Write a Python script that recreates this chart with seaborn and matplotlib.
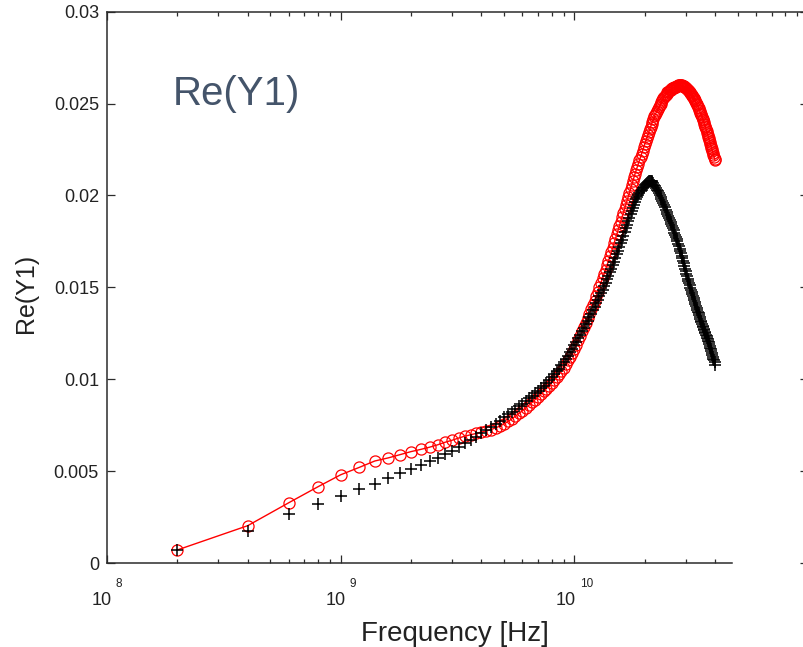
import numpy as np
import pandas as pd
import matplotlib
matplotlib.use("Agg")
import matplotlib.pyplot as plt
from matplotlib.ticker import FixedLocator, NullFormatter
import seaborn as sns

# Frequency sweep: 200 points, 0.2 GHz to 40 GHz in 0.2 GHz steps
freq_hz = np.linspace(0.2e9, 40e9, 200)

# Re(Y1) of the model (red circles joined by a line)
re_y1_model = [
    0.00071, 0.00203, 0.00328, 0.00415, 0.00480, 0.00520, 0.00555, 0.00572, 0.00590, 0.00606,
    0.00618, 0.00630, 0.00643, 0.00657, 0.00668, 0.00680, 0.00690, 0.00698, 0.00705, 0.00712,
    0.00719, 0.00726, 0.00735, 0.00745, 0.00757, 0.00770, 0.00784, 0.00799, 0.00814, 0.00829,
    0.00844, 0.00859, 0.00874, 0.00889, 0.00904, 0.00919, 0.00934, 0.00949, 0.00964, 0.00980,
    0.00996, 0.01012, 0.01028, 0.01045, 0.01062, 0.01082, 0.01102, 0.01122, 0.01143, 0.01164,
    0.01188, 0.01212, 0.01236, 0.01260, 0.01284, 0.01308, 0.01332, 0.01356, 0.01380, 0.01404,
    0.01428, 0.01452, 0.01476, 0.01500, 0.01524, 0.01548, 0.01572, 0.01596, 0.01620, 0.01644,
    0.01668, 0.01692, 0.01716, 0.01740, 0.01764, 0.01788, 0.01811, 0.01834, 0.01857, 0.01880,
    0.01902, 0.01924, 0.01946, 0.01968, 0.01990, 0.02012, 0.02034, 0.02056, 0.02078, 0.02100,
    0.02119, 0.02137, 0.02155, 0.02173, 0.02190, 0.02208, 0.02226, 0.02244, 0.02262, 0.02280,
    0.02296, 0.02312, 0.02328, 0.02344, 0.02360, 0.02374, 0.02388, 0.02402, 0.02416, 0.02430,
    0.02440, 0.02450, 0.02460, 0.02470, 0.02480, 0.02490, 0.02500, 0.02510, 0.02520, 0.02530,
    0.02536, 0.02542, 0.02548, 0.02554, 0.02560, 0.02564, 0.02568, 0.02572, 0.02576, 0.02580,
    0.02582, 0.02584, 0.02586, 0.02588, 0.02590, 0.02592, 0.02594, 0.02596, 0.02598, 0.02600,
    0.02600, 0.02600, 0.02599, 0.02598, 0.02597, 0.02595, 0.02593, 0.02591, 0.02589, 0.02586,
    0.02583, 0.02580, 0.02576, 0.02572, 0.02568, 0.02563, 0.02558, 0.02553, 0.02548, 0.02542,
    0.02536, 0.02530, 0.02524, 0.02518, 0.02511, 0.02504, 0.02497, 0.02490, 0.02483, 0.02475,
    0.02467, 0.02459, 0.02451, 0.02443, 0.02435, 0.02426, 0.02417, 0.02408, 0.02399, 0.02390,
    0.02380, 0.02370, 0.02360, 0.02350, 0.02340, 0.02330, 0.02320, 0.02310, 0.02300, 0.02290,
    0.02280, 0.02270, 0.02260, 0.02250, 0.02240, 0.02230, 0.02220, 0.02210, 0.02200, 0.02190,
]

# Re(Y1) measured (black plus markers)
re_y1_meas = [
    0.00070, 0.00176, 0.00265, 0.00319, 0.00365, 0.00400, 0.00432, 0.00462, 0.00490, 0.00510,
    0.00532, 0.00553, 0.00572, 0.00592, 0.00612, 0.00632, 0.00652, 0.00668, 0.00686, 0.00705,
    0.00722, 0.00739, 0.00757, 0.00775, 0.00792, 0.00808, 0.00824, 0.00839, 0.00853, 0.00867,
    0.00881, 0.00895, 0.00909, 0.00923, 0.00937, 0.00951, 0.00965, 0.00980, 0.00995, 0.01010,
    0.01026, 0.01042, 0.01058, 0.01075, 0.01092, 0.01110, 0.01128, 0.01146, 0.01165, 0.01184,
    0.01203, 0.01222, 0.01241, 0.01260, 0.01279, 0.01298, 0.01317, 0.01336, 0.01355, 0.01374,
    0.01393, 0.01412, 0.01431, 0.01450, 0.01469, 0.01488, 0.01507, 0.01526, 0.01545, 0.01564,
    0.01583, 0.01602, 0.01621, 0.01640, 0.01659, 0.01679, 0.01699, 0.01719, 0.01739, 0.01760,
    0.01780, 0.01800, 0.01820, 0.01840, 0.01860, 0.01879, 0.01898, 0.01916, 0.01933, 0.01949,
    0.01964, 0.01978, 0.01990, 0.02001, 0.02012, 0.02022, 0.02031, 0.02040, 0.02048, 0.02055,
    0.02062, 0.02068, 0.02073, 0.02077, 0.02079, 0.02079, 0.02076, 0.02071, 0.02065, 0.02058,
    0.02050, 0.02041, 0.02032, 0.02022, 0.02012, 0.02001, 0.01990, 0.01979, 0.01968, 0.01957,
    0.01946, 0.01935, 0.01923, 0.01911, 0.01898, 0.01887, 0.01876, 0.01865, 0.01854, 0.01843,
    0.01832, 0.01821, 0.01810, 0.01798, 0.01786, 0.01774, 0.01762, 0.01750, 0.01737, 0.01724,
    0.01711, 0.01698, 0.01685, 0.01672, 0.01658, 0.01644, 0.01630, 0.01616, 0.01602, 0.01588,
    0.01574, 0.01560, 0.01547, 0.01534, 0.01522, 0.01510, 0.01498, 0.01487, 0.01476, 0.01465,
    0.01454, 0.01443, 0.01432, 0.01421, 0.01410, 0.01399, 0.01388, 0.01378, 0.01368, 0.01358,
    0.01348, 0.01338, 0.01328, 0.01319, 0.01310, 0.01301, 0.01292, 0.01283, 0.01274, 0.01266,
    0.01258, 0.01250, 0.01242, 0.01234, 0.01226, 0.01218, 0.01209, 0.01200, 0.01191, 0.01182,
    0.01172, 0.01162, 0.01152, 0.01142, 0.01132, 0.01122, 0.01112, 0.01102, 0.01092, 0.01075,
]

y_ticks = [0, 0.005, 0.01, 0.015, 0.02, 0.025, 0.03]
y_tick_labels = ["0", "0.005", "0.01", "0.015", "0.02", "0.025", "0.03"]
x_decades = [1e8, 1e9, 1e10]
x_decade_exponents = ["8", "9", "10"]
x_label = "Frequency [Hz]"
y_label = "Re(Y1)"
title_text = "Re(Y1)"

sns.set_theme(style="ticks")
plt.rcParams["font.family"] = ["Liberation Sans", "DejaVu Sans"]
axis_color = "#2b2b2b"

W, H = 804, 647
fig = plt.figure(figsize=(W / 100, H / 100), dpi=100)
# axes box in figure pixels: x 107..808, y 11.6..563 (from top)
ax = fig.add_axes([107 / W, 1 - 563 / H, (808 - 107) / W, (563 - 11.6) / H])

df = pd.DataFrame({"freq": freq_hz, "model": re_y1_model, "meas": re_y1_meas})

sns.lineplot(data=df, x="freq", y="model", ax=ax, color="red", linewidth=1.0,
             marker="o", markersize=8, markerfacecolor="none",
             markeredgecolor="red", markeredgewidth=0.9,
             estimator=None, sort=False, legend=False)
sns.scatterplot(data=df, x="freq", y="meas", ax=ax, marker="+", color="black",
                s=64, linewidth=1.1, legend=False, zorder=3)

ax.set_xscale("log")
ax.set_xlim(1e8, 1e11)
ax.set_ylim(0, 0.03)

# bottom axis: decades and minor ticks, the axis line stops short of 5e10
minor_all = [m * 10.0 ** e for e in (8, 9, 10) for m in range(2, 10)]
bottom_end = 4.72e10
ax.xaxis.set_major_locator(FixedLocator(x_decades))
ax.xaxis.set_minor_locator(FixedLocator([v for v in minor_all if v <= bottom_end]))
ax.xaxis.set_major_formatter(NullFormatter())
ax.xaxis.set_minor_formatter(NullFormatter())
ax.spines["bottom"].set_bounds(1e8, bottom_end)
ax.spines["top"].set_visible(False)

ax.set_yticks(y_ticks, labels=y_tick_labels)

for side in ("left", "right", "bottom"):
    ax.spines[side].set_color(axis_color)
    ax.spines[side].set_linewidth(1.1)

ax.tick_params(axis="both", which="major", direction="in", length=5.6, width=0.9,
               color=axis_color, labelcolor="#222222", labelsize=13, pad=5.8)
ax.tick_params(axis="x", which="minor", direction="in", length=3.2, width=0.9,
               color=axis_color)
ax.tick_params(axis="y", right=True, left=True)
ax.tick_params(axis="x", top=False, which="both")

# top axis carries the full set of log ticks
top = ax.secondary_xaxis("top")
top.xaxis.set_major_locator(FixedLocator(x_decades + [1e11]))
top.xaxis.set_minor_locator(FixedLocator(minor_all))
top.xaxis.set_major_formatter(NullFormatter())
top.xaxis.set_minor_formatter(NullFormatter())
top.spines["top"].set_color(axis_color)
top.spines["top"].set_linewidth(1.1)
top.tick_params(which="major", direction="in", length=5.6, width=0.9, color=axis_color)
top.tick_params(which="minor", direction="in", length=3.2, width=0.9, color=axis_color)

# decade labels written as "10" with a raised exponent
base_w = 2 * 0.556 * 13 * 100 / 72
exp_digit_w = 0.556 * 8.5 * 100 / 72
gap = 3.5
xt = ax.get_xaxis_transform()
for val, ex in zip(x_decades, x_decade_exponents):
    group = base_w + gap + len(ex) * exp_digit_w
    right_of_base = -group / 2 + base_w
    ax.annotate("10", xy=(val, 0), xycoords=xt, xytext=(right_of_base, -42),
                textcoords="offset pixels", ha="right", va="baseline",
                fontsize=13, color="#222222", annotation_clip=False)
    ax.annotate(ex, xy=(val, 0), xycoords=xt, xytext=(right_of_base + gap, -24),
                textcoords="offset pixels", ha="left", va="baseline",
                fontsize=8.5, color="#222222", annotation_clip=False)

ax.set_xlabel(x_label, fontsize=20, color="#222222")
ax.xaxis.set_label_coords((455 - 107) / (808 - 107), (563 - 641) / (563 - 11.6))
ax.xaxis.label.set_va("baseline")
ax.set_ylabel(y_label, fontsize=18, color="#222222")
ax.yaxis.set_label_coords((33 - 107) / (808 - 107), (563 - 293) / (563 - 11.6))
ax.yaxis.label.set_va("baseline")

fig.text(173 / W, 1 - 105 / H, title_text, fontsize=29, color="#44546A",
         ha="left", va="baseline")

fig.savefig("out.png", dpi=100)
